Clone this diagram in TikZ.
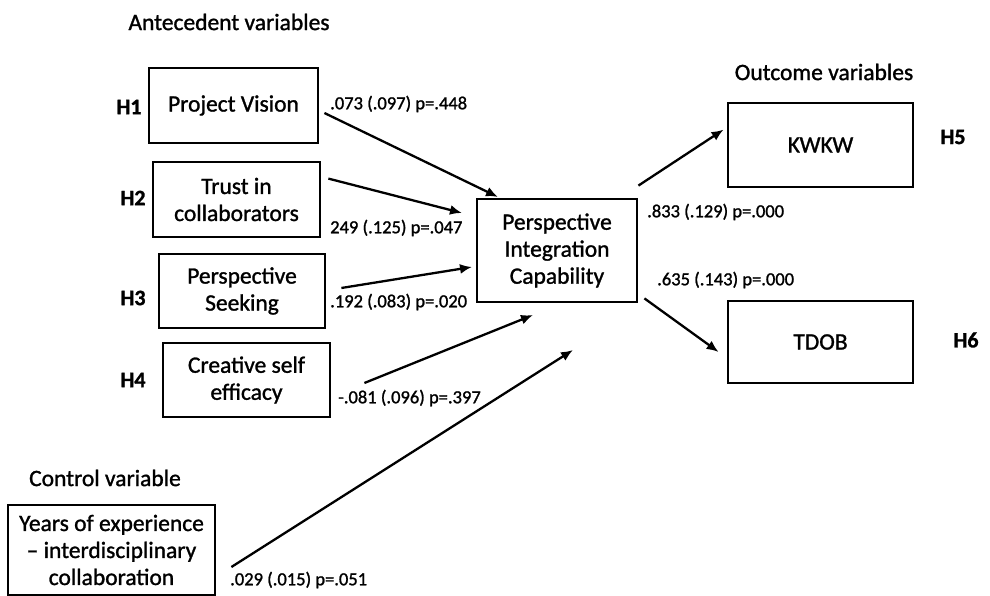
\documentclass[tikz,border=0pt]{standalone}
\usepackage{fontspec}
\setmainfont{Carlito}[RawFeature={embolden=1.2}]
\usetikzlibrary{arrows.meta}

\begin{document}
\begin{tikzpicture}[
    x=1pt, y=1pt,
    b/.style={draw, line width=2.8pt, align=center, inner sep=2pt, font=\fontsize{23.5}{27}\selectfont},
    hl/.style={font=\fontsize{22}{26}\selectfont\bfseries},
    hd/.style={font=\fontsize{23.5}{27}\selectfont},
    lb/.style={anchor=west, inner sep=0pt, font=\fontsize{18.5}{22}\selectfont},
    fl/.style={-{Latex[length=12pt, width=10pt]}, line width=2.3pt},
]
    \useasboundingbox (0,0) rectangle (990,596);
    % headings
    \node[hd] (hant) at (229,574) {Antecedent variables};
    \node[hd] (hout) at (824,524) {Outcome variables};
    \node[hd] (hctl) at (105,118) {Control variable};
    % boxes
    \node[b, minimum width=169pt, minimum height=75pt] (pv) at (233.5,490.5) {Project Vision};
    \node[b, minimum width=167pt, minimum height=75pt] (tr) at (236.5,396.5) {Trust in\\collaborators};
    \node[b, minimum width=166pt, minimum height=74pt] (ps) at (242,305) {Perspective\\Seeking};
    \node[b, minimum width=167pt, minimum height=74pt] (cs) at (246.5,216) {Creative self\\efficacy};
    \node[b, minimum width=160pt, minimum height=103pt] (pic) at (557,345.5) {Perspective\\Integration\\Capability};
    \node[b, minimum width=185pt, minimum height=84pt] (kw) at (820.5,451) {KWKW};
    \node[b, minimum width=185pt, minimum height=82pt] (td) at (820.5,254) {TDOB};
    \node[b, minimum width=207pt, minimum height=90pt] (yr) at (111.5,46) {Years of experience\\-- interdisciplinary\\collaboration};
    % hypotheses
    \node[hl] (h1) at (129,489) {H1};
    \node[hl] (h2) at (133,398) {H2};
    \node[hl] (h3) at (133,298) {H3};
    \node[hl] (h4) at (133,216) {H4};
    \node[hl] (h5) at (953,459) {H5};
    \node[hl] (h6) at (966,256) {H6};
    % estimates
    \node[lb] (e1) at (330,492) {.073 (.097) p=.448};
    \node[lb] (e2) at (330,368) {249 (.125) p=.047};
    \node[lb] (e3) at (330,294) {.192 (.083) p=.020};
    \node[lb] (e4) at (338,198) {-.081 (.096) p=.397};
    \node[lb] (e5) at (647,384) {.833 (.129) p=.000};
    \node[lb] (e6) at (657,316) {.635 (.143) p=.000};
    \node[lb] (e7) at (230,16) {.029 (.015) p=.051};
    % arrow ends near the capability box
    \coordinate (t1) at (498,399);
    \coordinate (t2) at (462,383);
    \coordinate (t3) at (472,329);
    \coordinate (t4) at (533,281);
    \coordinate (t5) at (573,246);
    \draw[fl] ([shift={(5,-7.5)}]pv.east) -- (t1);
    \draw[fl] ([shift={(7,-18)}]tr.north east) -- (t2);
    \draw[fl] ([shift={(15,3)}]ps.east) -- (t3);
    \draw[fl] ([shift={(33,-3)}]cs.east) -- (t4);
    \draw[fl] ([shift={(15,-17)}]yr.east) -- (t5);
    \draw[fl] ([shift={(0,12)}]pic.north east) -- ([shift={(-3,-28)}]kw.north west);
    \draw[fl] ([shift={(6,5)}]pic.south east) -- ([shift={(-8,-10)}]td.west);
\end{tikzpicture}
\end{document}
